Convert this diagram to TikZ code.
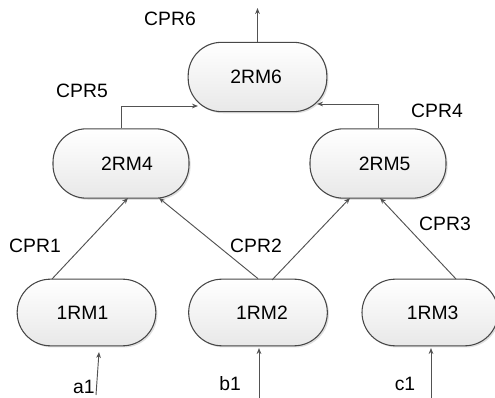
\documentclass[tikz,border=0pt]{standalone}
\usepackage{fontspec}
\setmainfont{Liberation Sans}
\usetikzlibrary{arrows.meta,calc,shadows}
\begin{document}
\begin{tikzpicture}[x=0.75pt,y=-0.75pt,
  font=\fontsize{14.5}{16}\selectfont,
  rmbox/.style={draw=black!72, line width=0.8pt, rounded corners=25pt,
    top color=white, bottom color=black!9, minimum height=52pt,
    drop shadow={shadow xshift=1.2pt, shadow yshift=-1.2pt, opacity=0.25, fill=black!50},
    inner sep=0pt, text=black},
  conn/.style={draw=black!68, line width=0.7pt, -{Stealth[length=4.5pt,width=3.5pt]}},
  lbl/.style={inner sep=0pt, text=black}]
\useasboundingbox (0,0) rectangle (495,398);
% nodes
\node[rmbox, minimum width=104pt] (n6) at (257.5,77) {\hspace*{-2pt}2RM6};
\node[rmbox, minimum width=102pt] (n4) at (121,163.5) {\hspace*{9pt}2RM4};
\node[rmbox, minimum width=102pt] (n5) at (378,163.5) {\hspace*{10pt}2RM5};
\node[rmbox, minimum width=104pt, minimum height=50pt] (n1) at (86.5,312.5) {\hspace*{-6pt}1RM1};
\node[rmbox, minimum width=104pt, minimum height=50pt] (n2) at (258,312.5) {\raisebox{-2pt}{\hspace*{6pt}1RM2}};
\node[rmbox, minimum width=102pt, minimum height=50pt] (n3) at (430,312.5) {\hspace*{4pt}1RM3};
% free ends
\coordinate (top) at (257.5,8);
\coordinate (a0) at (96,395);
\coordinate (b0) at (259,398);
\coordinate (c0) at (431,398);
% connectors
\draw[conn] (n6.north) -- (top);
\draw[conn] (n4.north) |- ($(n6.center)+(-59.5,29)$);
\draw[conn] (n5.north) |- ($(n6.center)+(59.5,27)$);
\draw[conn] ($(n1.center)+(-34.5,-33.5)$) -- ($(n4.center)+(7,34.5)$);
\draw[conn] (n2.north) -- ($(n4.center)+(38,34.5)$);
\draw[conn] ($(n2.center)+(14,-32.5)$) -- ($(n5.center)+(-28,34.5)$);
\draw[conn] ($(n3.center)+(26,-33.5)$) -- ($(n5.center)+(2,34.5)$);
\draw[conn] (a0) -- ($(n1.center)+(12.5,39.5)$);
\draw[conn] (b0) -- ($(n2.center)+(1,35.5)$);
\draw[conn] (c0) -- ($(n3.center)+(1,35.5)$);
% labels
\node[lbl] (cpr6) at (170,19) {CPR6};
\node[lbl] (cpr5) at (82,90.5) {CPR5};
\node[lbl] (cpr4) at (437,110.5) {CPR4};
\node[lbl] (cpr1) at (35,246) {CPR1};
\node[lbl] (cpr2) at (256,245.5) {CPR2};
\node[lbl] (cpr3) at (445,223.5) {CPR3};
\node[lbl] (a1) at (84,387) {a1};
\node[lbl] (b1) at (230,384) {b1};
\node[lbl] (c1) at (405,384) {c1};
\end{tikzpicture}
\end{document}
